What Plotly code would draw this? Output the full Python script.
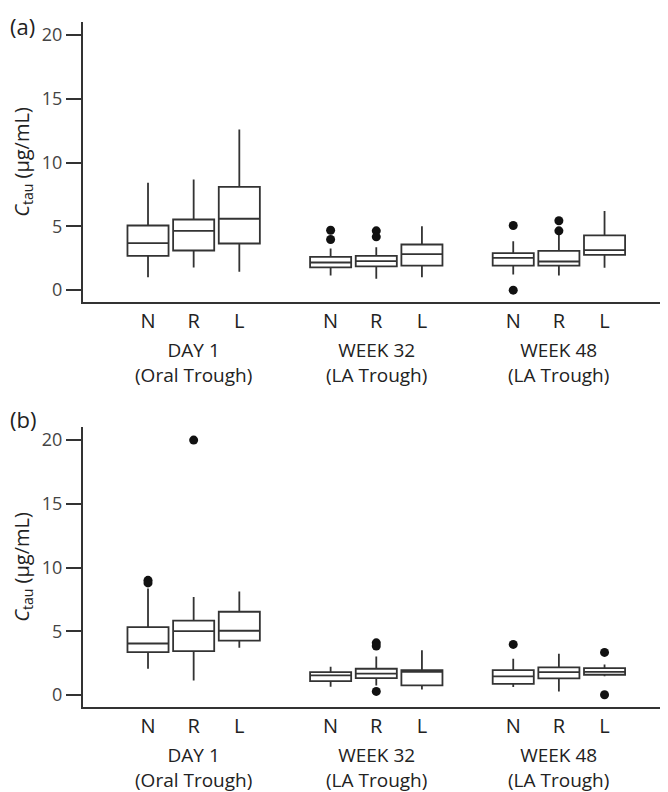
import plotly.graph_objects as go

# ---------------- data ----------------
groups = ["N", "R", "L"]
timepoints = ["DAY 1<br>(Oral Trough)", "WEEK 32<br>(LA Trough)", "WEEK 48<br>(LA Trough)"]
positions = [0, 1, 2, 4, 5, 6, 8, 9, 10]
tick_labels = ["N", "R", "L", "N", "R", "L", "N", "R", "L"]

# panel (a)
a_low = [1.02, 1.78, 1.44, 1.15, 0.89, 1.02, 1.23, 1.15, 1.75]
a_q1 = [2.69, 3.11, 3.66, 1.78, 1.86, 1.93, 1.93, 1.93, 2.77]
a_med = [3.69, 4.65, 5.60, 2.17, 2.27, 2.82, 2.54, 2.25, 3.14]
a_q3 = [5.07, 5.54, 8.10, 2.61, 2.69, 3.58, 2.90, 3.08, 4.29]
a_high = [8.42, 8.68, 12.60, 3.27, 3.37, 5.02, 3.84, 4.35, 6.20]
a_out_x = [4, 4, 5, 5, 8, 8, 9, 9]
a_out_y = [4.70, 3.97, 4.65, 4.18, 5.07, 0.00, 5.44, 4.65]

# panel (b)
b_low = [2.07, 1.15, 3.72, 0.66, 0.76, 0.45, 0.63, 0.29, 1.49]
b_q1 = [3.37, 3.45, 4.27, 1.10, 1.33, 0.76, 0.89, 1.31, 1.60]
b_med = [4.05, 5.02, 5.05, 1.55, 1.68, 1.83, 1.47, 1.80, 1.83]
b_q3 = [5.33, 5.84, 6.54, 1.80, 2.07, 1.96, 1.96, 2.17, 2.12]
b_high = [8.37, 7.69, 8.13, 2.23, 3.03, 3.53, 2.85, 3.25, 2.41]
b_out_x = [0, 0, 1, 5, 5, 5, 8, 10, 10]
b_out_y = [9.00, 8.80, 20.00, 4.10, 3.85, 0.29, 3.98, 3.35, 0.03]

y_ticks = [0, 5, 10, 15, 20]
y_title = "<i>C</i><sub>tau</sub> (µg/mL)"

# ---------------- figure ----------------
LINE = "#333333"
TXT = "#222222"
FONT = "Open Sans"

fig = go.Figure()

panels = [
    ("x", "y", a_low, a_q1, a_med, a_q3, a_high, a_out_x, a_out_y),
    ("x2", "y2", b_low, b_q1, b_med, b_q3, b_high, b_out_x, b_out_y),
]
for xa, ya, lo, q1, md, q3, hi, ox, oy in panels:
    for i, p in enumerate(positions):
        fig.add_trace(go.Box(
            x=[p], q1=[q1[i]], median=[md[i]], q3=[q3[i]],
            lowerfence=[lo[i]], upperfence=[hi[i]],
            width=0.9, boxpoints=False, whiskerwidth=0,
            fillcolor="white", line=dict(color=LINE, width=1.8),
            xaxis=xa, yaxis=ya, showlegend=False, hoverinfo="skip",
        ))
    fig.add_trace(go.Scatter(
        x=ox, y=oy, mode="markers",
        marker=dict(color="#111111", size=9, line=dict(width=0)),
        xaxis=xa, yaxis=ya, showlegend=False, hoverinfo="skip",
    ))

xaxis_common = dict(
    range=[-1.424, 11.39], tickvals=positions, ticktext=tick_labels,
    showline=True, linecolor=LINE, linewidth=2, ticks="", showgrid=False,
    zeroline=False, tickfont=dict(family=FONT, size=20, color=TXT),
)
yaxis_common = dict(
    range=[-0.93, 21.03], tickvals=y_ticks, showline=True, linecolor=LINE,
    linewidth=2, ticks="outside", ticklen=15, tickwidth=2, tickcolor=LINE,
    showgrid=False, zeroline=False, automargin=False,
    tickfont=dict(family=FONT, size=18, color="#444444"),
    title=dict(text=y_title, standoff=15, font=dict(family=FONT, size=20, color=TXT)),
)

# page body adds an 8px margin, so the figure is 660x784 with its plot area
# placed to land on the reference's pixel positions
fig.update_layout(
    width=660, height=784,
    margin=dict(l=75, r=0, t=14, b=85),
    paper_bgcolor="white", plot_bgcolor="white",
    font=dict(family=FONT, color=TXT),
    xaxis=dict(domain=[0, 1], anchor="y", **xaxis_common),
    yaxis=dict(domain=[0.5912, 1], anchor="x", **yaxis_common),
    xaxis2=dict(domain=[0, 1], anchor="y2", **xaxis_common),
    yaxis2=dict(domain=[0, 0.4088], anchor="x2", **yaxis_common),
)

annotations = []
for xr, yr in [("x", "y domain"), ("x2", "y2 domain")]:
    for k, lab in enumerate(timepoints):
        annotations.append(dict(
            x=positions[3 * k + 1], xref=xr, y=0, yref=yr, yshift=-60,
            text=lab, showarrow=False, xanchor="center", yanchor="middle",
            font=dict(family=FONT, size=19, color=TXT),
        ))

annotations.append(dict(x=0, xref="paper", y=1, yref="y domain", xshift=-75, yshift=13,
                        text="(a)", showarrow=False, xanchor="left", yanchor="top",
                        font=dict(family=FONT, size=22, color=TXT)))
annotations.append(dict(x=0, xref="paper", y=1, yref="y2 domain", xshift=-75, yshift=25,
                        text="(b)", showarrow=False, xanchor="left", yanchor="top",
                        font=dict(family=FONT, size=22, color=TXT)))
fig.update_layout(annotations=annotations)

fig.write_html("out.html")
